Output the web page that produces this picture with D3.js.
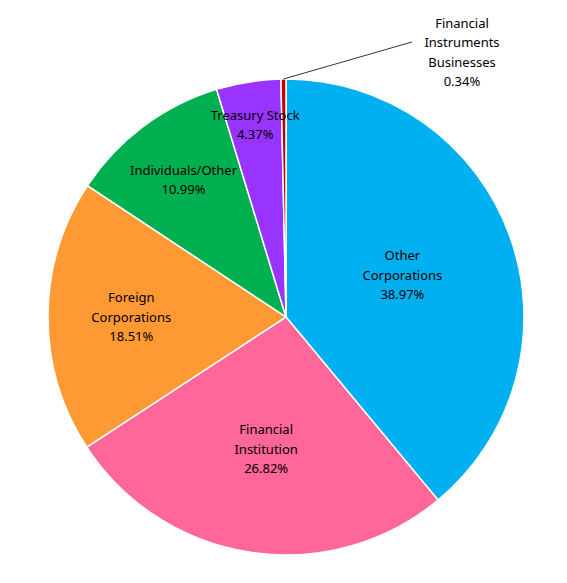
<!DOCTYPE html>
<html><head><meta charset="utf-8">
<script src="https://cdn.jsdelivr.net/npm/d3@7"></script>
<style>body{margin:0;background:#fff;font-family:"Noto Sans",sans-serif;}</style>
</head><body>
<svg id="chart" width="567" height="583"></svg>
<script>
var labels = [["Other","Corporations"],["Financial","Institution"],["Foreign","Corporations"],["Individuals/Other"],["Treasury Stock"],["Financial","Instruments","Businesses"]];
var values = [38.97,26.82,18.51,10.99,4.37,0.34];
var colors = ["#00B0F0","#FF6699","#FF9933","#00B050","#9933FF","#C00000"];
var labelR = [0.52,0.56,0.65,0.72,0.82,1];

var svg = d3.select("#chart");
var cx = 286, cy = 317, r = 238;
var g = svg.append("g").attr("transform","translate("+cx+","+cy+")");
var pie = d3.pie().sort(null).value(function(d){return d;});
var arcs = pie(values);
var arc = d3.arc().innerRadius(0).outerRadius(r);

g.selectAll("path").data(arcs).enter().append("path")
  .attr("d",arc).attr("fill",function(d,i){return colors[i];})
  .attr("stroke","#fff").attr("stroke-width",1.5);

arcs.forEach(function(d,i){
  var lines = labels[i].concat([values[i].toFixed(2)+"%"]);
  var a = (d.startAngle+d.endAngle)/2;
  var x, y;
  if (i == 5){
    // outside label with leader line
    var ex = Math.sin(a)*r, ey = -Math.cos(a)*r;
    x = 176; y = -265;
    g.append("line").attr("x1",ex).attr("y1",ey).attr("x2",126).attr("y2",-275)
      .attr("stroke","#000").attr("stroke-width",0.8);
  } else {
    x = Math.sin(a)*r*labelR[i]; y = -Math.cos(a)*r*labelR[i];
  }
  var t = g.append("text").attr("text-anchor","middle").attr("font-size",13).attr("fill","#000");
  var h = 19.5, y0 = y-(lines.length-1)*h/2+5;
  lines.forEach(function(l,j){
    t.append("tspan").attr("x",x).attr("y",y0+j*h).text(l);
  });
});
</script>
</body></html>
